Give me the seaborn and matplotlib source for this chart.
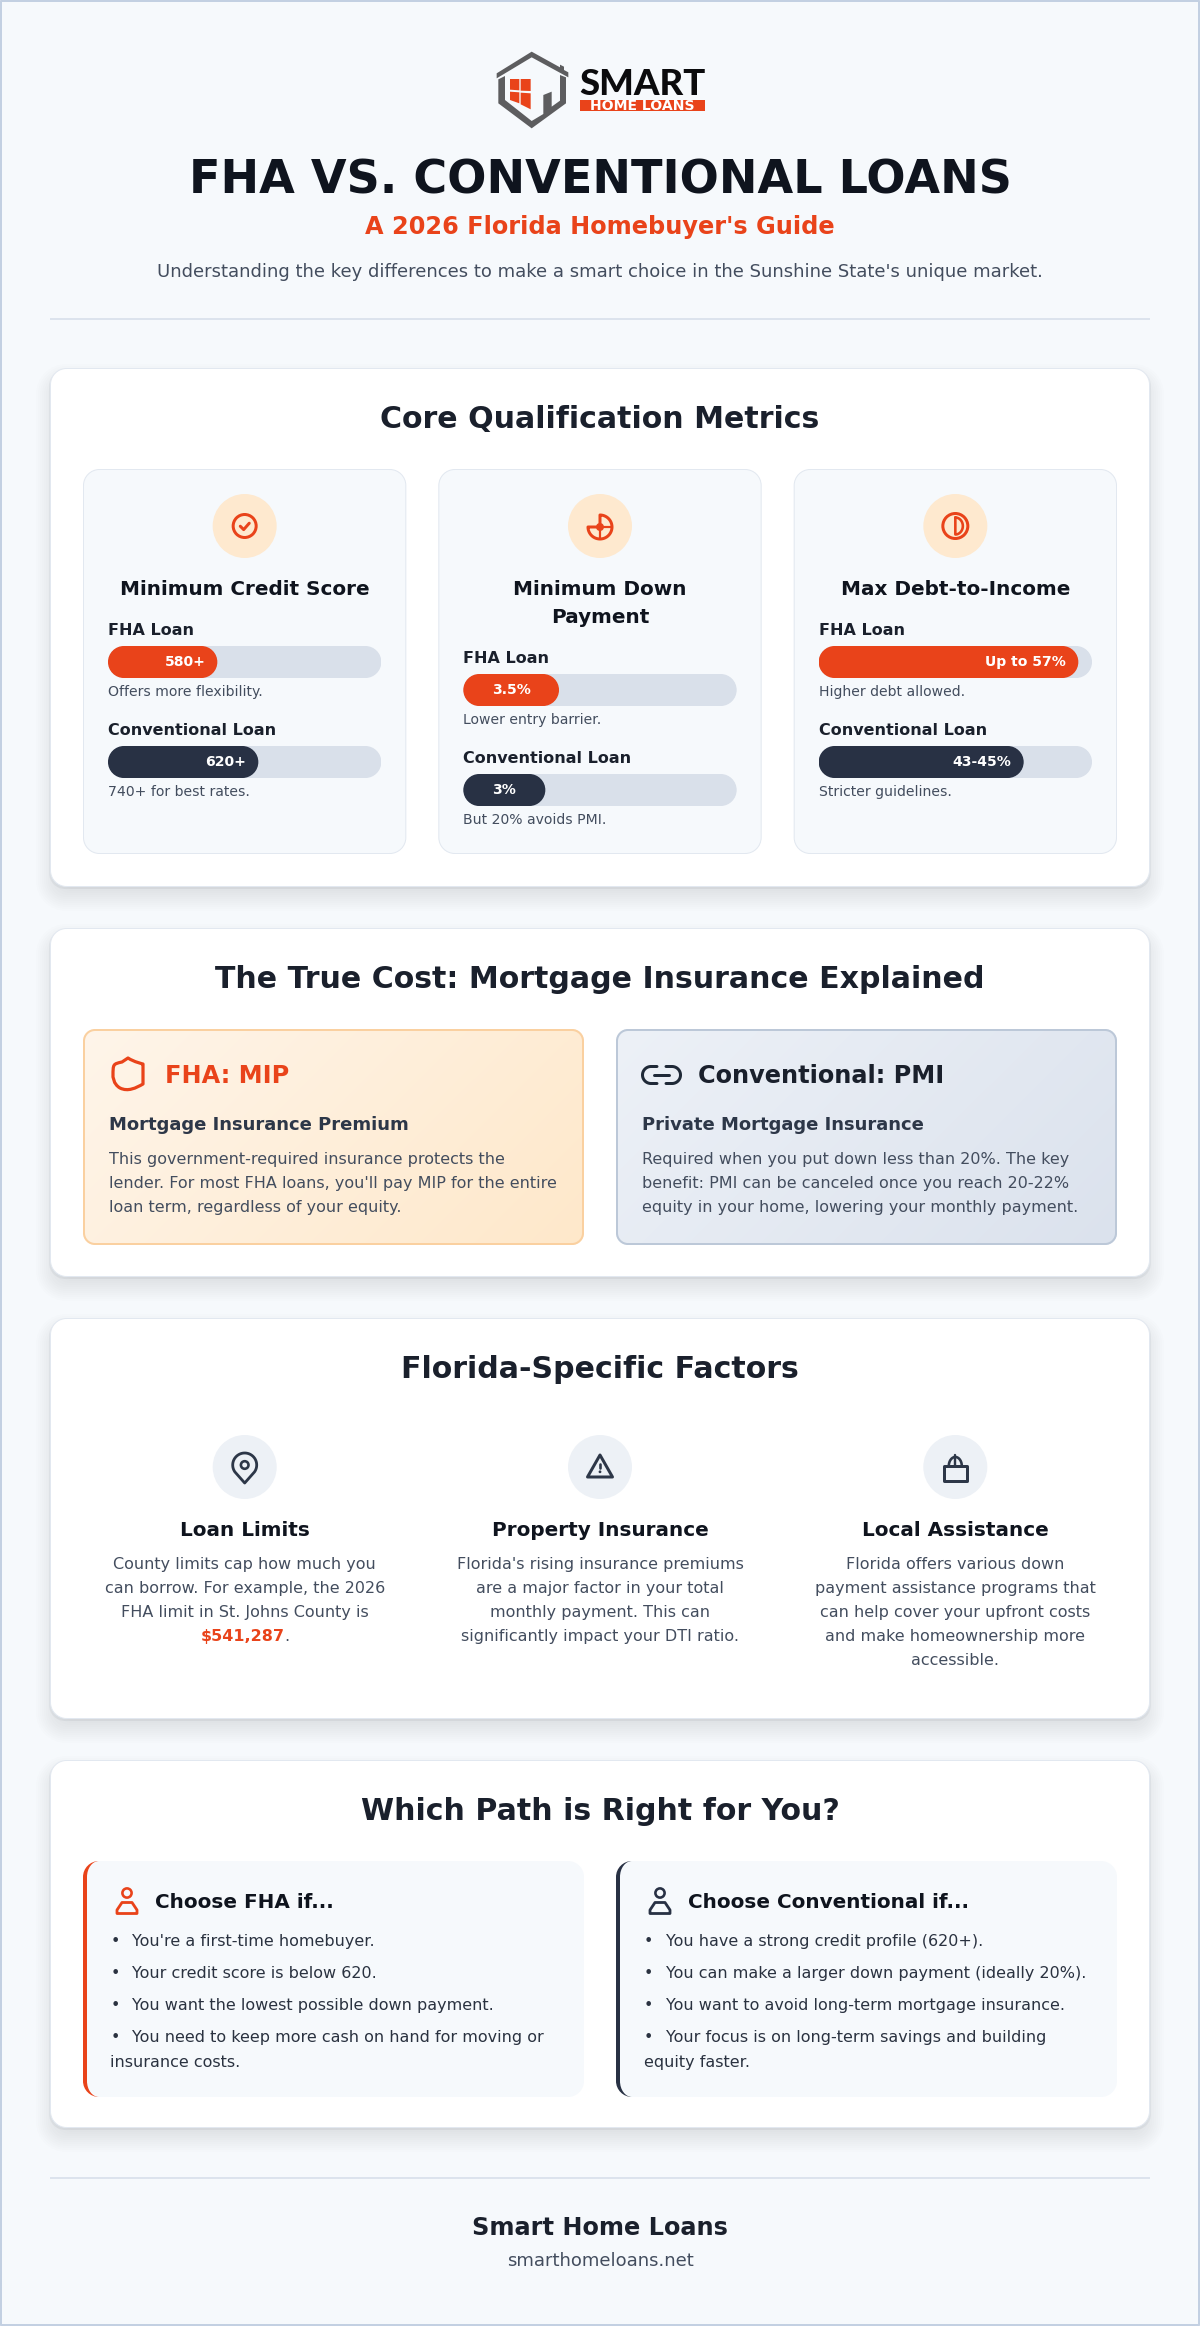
import numpy as np
import matplotlib
matplotlib.use("Agg")
import matplotlib.pyplot as plt
from matplotlib.path import Path
from matplotlib.patches import PathPatch, Circle
import seaborn as sns

# ---------- data ----------
metric_titles = [["Minimum Credit Score"], ["Minimum Down", "Payment"], ["Max Debt-to-Income"]]
bar_categories = ["FHA Loan", "Conventional Loan"]
fha_fill = [40, 35, 95]
conv_fill = [55, 30, 75]
fha_labels = ["580+", "3.5%", "Up to 57%"]
conv_labels = ["620+", "3%", "43-45%"]
fha_notes = ["Offers more flexibility.", "Lower entry barrier.", "Higher debt allowed."]
conv_notes = ["740+ for best rates.", "But 20% avoids PMI.", "Stricter guidelines."]
mip_body = ["This government-required insurance protects the",
            "lender. For most FHA loans, you'll pay MIP for the entire",
            "loan term, regardless of your equity."]
pmi_body = ["Required when you put down less than 20%. The key",
            "benefit: PMI can be canceled once you reach 20-22%",
            "equity in your home, lowering your monthly payment."]
factor_titles = ["Loan Limits", "Property Insurance", "Local Assistance"]
factor_lines = [["County limits cap how much you", "can borrow. For example, the 2026",
                 "FHA limit in St. Johns County is"],
                ["Florida's rising insurance premiums", "are a major factor in your total",
                 "monthly payment. This can", "significantly impact your DTI ratio."],
                ["Florida offers various down", "payment assistance programs that",
                 "can help cover your upfront costs", "and make homeownership more", "accessible."]]
fha_reasons = [["You're a first-time homebuyer."], ["Your credit score is below 620."],
               ["You want the lowest possible down payment."],
               ["You need to keep more cash on hand for moving or", "insurance costs."]]
conv_reasons = [["You have a strong credit profile (620+)."],
                ["You can make a larger down payment (ideally 20%)."],
                ["You want to avoid long-term mortgage insurance."],
                ["Your focus is on long-term savings and building", "equity faster."]]

# ---------- colours ----------
ORANGE = "#e9431a"
NAVY = "#283144"
INK = "#0f141e"
HEAD = "#1a202c"
BODY = "#434d5e"
TEXT2 = "#2a3240"
TRACK = "#d9e0ea"
PANEL = "#f6f9fc"
PAGE = "#f6f9fc"
LINE = "#e2e8f0"

sns.set_theme(style="white", rc={"font.family": ["DejaVu Sans"]})
W, H = 1200, 2326
fig = plt.figure(figsize=(W / 100, H / 100), dpi=100, facecolor=PAGE)
ax0 = fig.add_axes([0, 0, 1, 1], zorder=0)
ax0.set_xlim(0, W)
ax0.set_ylim(H, 0)
ax0.axis("off")


def px(v):
    return v * 0.72


def rr_path(x0, y0, x1, y1, r, rx=None):
    rx = r if rx is None else rx
    k = 0.5523
    v = [(x0 + rx, y0), (x1 - r, y0),
         (x1 - r + k * r, y0), (x1, y0 + r - k * r), (x1, y0 + r),
         (x1, y1 - r),
         (x1, y1 - r + k * r), (x1 - r + k * r, y1), (x1 - r, y1),
         (x0 + rx, y1),
         (x0 + rx - k * rx, y1), (x0, y1 - r + k * r), (x0, y1 - r),
         (x0, y0 + r),
         (x0, y0 + r - k * r), (x0 + rx - k * rx, y0), (x0 + rx, y0),
         (x0 + rx, y0)]
    c = [Path.MOVETO, Path.LINETO, Path.CURVE4, Path.CURVE4, Path.CURVE4, Path.LINETO,
         Path.CURVE4, Path.CURVE4, Path.CURVE4, Path.LINETO, Path.CURVE4, Path.CURVE4, Path.CURVE4,
         Path.LINETO, Path.CURVE4, Path.CURVE4, Path.CURVE4, Path.CLOSEPOLY]
    return Path(v, c)


def box(x0, y0, x1, y1, r, fc="none", ec="none", lw=0, alpha=None, z=1, rx=None):
    p = PathPatch(rr_path(x0, y0, x1, y1, r, rx), facecolor=fc, edgecolor=ec, linewidth=px(lw),
                  alpha=alpha, zorder=z)
    ax0.add_patch(p)
    return p


def T(x, yc, s, size, color=BODY, weight="normal", ha="left", family=None, z=5):
    kw = {"family": family} if family else {}
    return ax0.text(x, yc + 0.36 * size, s, fontsize=px(size), color=color, fontweight=weight,
                    ha=ha, va="baseline", zorder=z, **kw)


def line(pts, color, lw=2.5, closed=False, fc="none", z=4):
    pts = list(pts)
    codes = [Path.MOVETO] + [Path.LINETO] * (len(pts) - 1)
    if closed:
        pts.append(pts[0])
        codes.append(Path.CLOSEPOLY)
    p = PathPatch(Path(pts, codes), facecolor=fc, edgecolor=color, linewidth=px(lw),
                  capstyle="round", joinstyle="round", zorder=z)
    ax0.add_patch(p)


def arc(cx, cy, rx, ry, a0, a1, n=40):
    t = np.radians(np.linspace(a0, a1, n))
    return list(zip(cx + rx * np.cos(t), cy + ry * np.sin(t)))


def circ(cx, cy, r, fc="none", ec="none", lw=0, z=3):
    ax0.add_patch(Circle((cx, cy), r, facecolor=fc, edgecolor=ec, linewidth=px(lw), zorder=z))


def card(x0, y0, x1, y1):
    for k in range(14):
        e = 14 - k * 2
        box(x0 - e, y0 + 10 - e, x1 + e, y1 + 10 + e, 16 + max(e, 0), fc="#1a2a44", alpha=0.0085, z=1)
    box(x0 - 1, y0 + 2, x1 + 1, y1 + 2, 16, fc="#1a2a44", alpha=0.05, z=1)
    box(x0 + .5, y0 + .5, x1 - .5, y1 - .5, 16, fc="white", ec=LINE, lw=1, z=2)


def gradient(x0, y0, x1, y1, c0, c1, edge):
    a, b = np.array(matplotlib.colors.to_rgb(c0)), np.array(matplotlib.colors.to_rgb(c1))
    yy, xx = np.mgrid[0:1:120j, 0:1:200j]
    w = (xx * (x1 - x0) + yy * (y1 - y0)) / ((x1 - x0) + (y1 - y0))
    img = a[None, None, :] * (1 - w[..., None]) + b[None, None, :] * w[..., None]
    im = ax0.imshow(img, extent=(x0, x1, y1, y0), aspect="auto", zorder=2.5, interpolation="bilinear")
    clip = PathPatch(rr_path(x0, y0, x1, y1, 12), transform=ax0.transData)
    im.set_clip_path(clip)
    ax0.set_xlim(0, W)
    ax0.set_ylim(H, 0)
    box(x0 + 1, y0 + 1, x1 - 1, y1 - 1, 11, ec=edge, lw=2, z=3)


def logo_poly(pts, color, z=4):
    ax0.add_patch(plt.Polygon([(x / 3 + 480, y / 3 + 40) for x, y in pts], closed=True,
                              facecolor=color, edgecolor="none", zorder=z))


# ---------- page frame ----------
box(1, 1, W - 1, H - 1, 0.01, ec="#c3d0e2", lw=2, z=0.5)

# ---------- logo ----------
GREY = "#5d5d5f"
logo_poly([(50, 100), (155, 35), (240, 82), (240, 74), (252, 80), (252, 90), (265, 97), (265, 112),
           (155, 52), (50, 115)], GREY)
logo_poly([(55, 118), (75, 108), (75, 180), (155, 243), (190, 222), (190, 165), (215, 155), (215, 200),
           (240, 182), (240, 105), (258, 112), (258, 190), (155, 265), (55, 190)], GREY)
for pane in ([(90, 117), (118, 117), (118, 151), (90, 149)],
             [(122, 117), (152, 117), (152, 153), (122, 152)],
             [(90, 155), (118, 157), (118, 190), (90, 180)],
             [(122, 158), (152, 160), (152, 208), (122, 193)]):
    logo_poly(pane, ORANGE)
ax0.text(642, 95, "SMART", fontsize=px(36.5), color="#0b0b0d", fontweight="black", family="Lato",
         ha="center", va="baseline", zorder=5)
ax0.add_patch(plt.Rectangle((580, 99.5), 124.5, 11.5, facecolor=ORANGE, edgecolor="none", zorder=4))
ax0.text(642, 110, "HOME LOANS", fontsize=px(14), color="white", fontweight="bold",
         ha="center", va="baseline", zorder=5)

# ---------- header ----------
T(600, 177, "FHA VS. CONVENTIONAL LOANS", 46.2, INK, "bold", "center")
T(600, 225, "A 2026 Florida Homebuyer's Guide", 24, ORANGE, "bold", "center")
T(600, 271, "Understanding the key differences to make a smart choice in the Sunshine State's unique market.",
  17.95, BODY, ha="center")
ax0.add_patch(plt.Rectangle((50, 318), 1100, 2, facecolor="#dce3ed", edgecolor="none", zorder=1))

# ---------- cards ----------
card(50, 368, 1150, 887)
card(50, 928, 1150, 1277)
card(50, 1318, 1150, 1719)
card(50, 1760, 1150, 2128)
T(600, 417, "Core Qualification Metrics", 30, HEAD, "bold", "center")
T(600, 977, "The True Cost: Mortgage Insurance Explained", 30, HEAD, "bold", "center")
T(600, 1367, "Florida-Specific Factors", 30, HEAD, "bold", "center")
T(600, 1809, "Which Path is Right for You?", 30, HEAD, "bold", "center")

# ---------- metric panels ----------
panel_x = [83.0, 438.33, 793.67]
panel_w = 323.33
for i, x0 in enumerate(panel_x):
    box(x0 + .5, 469.5, x0 + panel_w - .5, 853.5, 16, fc=PANEL, ec=LINE, lw=1, z=3)
    cx = x0 + panel_w / 2
    circ(cx, 526, 32, fc="#fee9cf")
    for j, s in enumerate(metric_titles[i]):
        T(cx, 588 + 28 * j, s, 20, INK, "bold", "center")
    shift = 28 * (len(metric_titles[i]) - 1)
    tx = x0 + 25
    tw = panel_w - 50
    T(tx, 629 + shift, bar_categories[0], 16, HEAD, "bold")
    T(tx, 729 + shift, bar_categories[1], 16, HEAD, "bold")
    T(tx, 691 + shift, fha_notes[i], 14, BODY)
    T(tx, 791 + shift, conv_notes[i], 14, BODY)

    cy = 662 + shift
    ax = fig.add_axes([tx / W, 1 - (cy + 150) / H, tw / W, 200 / H], zorder=2)
    ax.patch.set_alpha(0)
    sns.barplot(x=[100, 100], y=bar_categories, color=TRACK, saturation=1, width=0.32, ax=ax, errorbar=None)
    vals = [fha_fill[i], conv_fill[i]]
    sns.barplot(x=vals, y=bar_categories, hue=bar_categories, palette=[ORANGE, NAVY], saturation=1,
                width=0.32, legend=False, ax=ax, errorbar=None)
    ax.set_xlim(0, 100)
    ax.set_ylim(1.5, -0.5)
    ax.axis("off")
    to_px = ax.transData + ax0.transData.inverted()
    for n, bar in enumerate(list(ax.patches)):
        (a, b), (c, d) = to_px.transform([(bar.get_x(), bar.get_y()),
                                          (bar.get_x() + bar.get_width(), bar.get_y() + bar.get_height())])
        xa, xb, ya, yb = min(a, c), max(a, c), min(b, d), max(b, d)
        z = 1 if n < 2 else 2
        bar.set_zorder(z)
        # the seaborn bar is clipped just inside an antialiased rounded cap of the same size
        bar.set_clip_path(PathPatch(rr_path(xa + .6, ya + .6, xb - .6, yb - .6, 15.4), transform=ax0.transData))
        ax.add_patch(PathPatch(rr_path(xa, ya, xb, yb, 16), transform=ax0.transData,
                               facecolor=bar.get_facecolor(), edgecolor="none", zorder=z))
    labels = [fha_labels[i], conv_labels[i]]
    for k, (v, lab) in enumerate(zip(vals, labels)):
        if i == 1:
            ax.annotate(lab, (v / 2, k), xytext=(0, 1.5), textcoords="offset pixels", ha="center",
                        va="center_baseline", color="white", fontsize=px(14), fontweight="bold", zorder=3)
        else:
            ax.annotate(lab, (v, k), xytext=(-12, 1.5), textcoords="offset pixels", ha="right",
                        va="center_baseline", color="white", fontsize=px(14), fontweight="bold", zorder=3)

# metric icons
cx = panel_x[0] + panel_w / 2
circ(cx, 526, 11.5, ec=ORANGE, lw=3, z=4)
line([(cx - 4.4, 526.2), (cx - 1, 529.6), (cx + 4.6, 523.2)], ORANGE, 3)
cx = panel_x[1] + panel_w / 2
line(arc(cx, 527, 12, 12, -90, 180) + [(cx, 527)], ORANGE, 3, closed=True)
line([(cx, 527), (cx + 12, 527)], ORANGE, 2.2)
line([(cx, 527), (cx, 539)], ORANGE, 2.2)
circ(cx, 527, 4, fc=ORANGE, z=5)
cx = panel_x[2] + panel_w / 2
circ(cx, 526, 12.5, ec=ORANGE, lw=3, z=4)
line([(cx, 517.5)] + arc(cx, 526, 7.5, 8.5, -90, 90) + [(cx, 517.5)], ORANGE, 2.6)

# ---------- insurance boxes ----------
gradient(83, 1029, 584, 1245, "#fff5ea", "#fee8ca", "#fad0a0")
gradient(616, 1029, 1117, 1245, "#edf1f7", "#dbe2ed", "#bcc8d8")
T(165, 1074, "FHA: MIP", 24, ORANGE, "bold")
T(698, 1074, "Conventional: PMI", 24, HEAD, "bold")
T(109, 1124, "Mortgage Insurance Premium", 18, "#2d3748", "bold")
T(642.5, 1124, "Private Mortgage Insurance", 18, "#2d3748", "bold")
for j, s in enumerate(mip_body):
    T(109, 1158 + 24.3 * j, s, 16, BODY)
for j, s in enumerate(pmi_body):
    T(642.5, 1158 + 24.3 * j, s, 16, BODY)

# shield and link icons
shield = Path([(128, 1058), (134, 1062), (143, 1064), (143, 1064), (143, 1076), (143, 1076),
               (143, 1084), (136, 1088), (128, 1092), (120, 1088), (113, 1084), (113, 1076),
               (113, 1076), (113, 1064), (113, 1064), (122, 1062), (128, 1058), (128, 1058)],
              [Path.MOVETO] + [Path.CURVE4] * 15 + [Path.LINETO, Path.CLOSEPOLY])
ax0.add_patch(PathPatch(shield, facecolor="none", edgecolor=ORANGE, linewidth=px(3.2), joinstyle="round", zorder=4))
line([(657, 1066.5), (651, 1066.5)] + arc(651, 1075, 8.5, 8.5, 270, 90) + [(657, 1083.5)], "#1f2937", 3)
line([(666, 1066.5), (672, 1066.5)] + arc(672, 1075, 8.5, 8.5, -90, 90) + [(666, 1083.5)], "#1f2937", 3)
line([(654, 1075), (669, 1075)], "#1f2937", 3)

# ---------- florida factors ----------
factor_x = [244.7, 600, 955.3]
for cx, title, lines in zip(factor_x, factor_titles, factor_lines):
    circ(cx, 1467, 32, fc="#edf1f6")
    T(cx, 1529, title, 20, INK, "bold", "center")
    for j, s in enumerate(lines):
        T(cx, 1563 + 24 * j, s, 16, BODY, ha="center")
T(200.3, 1635, "$541,287", 16, ORANGE, "bold")
T(284.5, 1635, ".", 16, BODY)

DARK = "#2d3748"
cx = factor_x[0]
line(arc(cx, 1465, 12, 12, 145, 395) + [(cx, 1483)], DARK, 2.8, closed=True)
circ(cx, 1465, 3.8, ec=DARK, lw=2.6, z=4)
cx = factor_x[1]
line([(cx, 1455), (cx - 12.5, 1477), (cx + 12.5, 1477)], DARK, 3, closed=True)
line([(cx, 1463.5), (cx, 1467.5)], DARK, 2.6)
circ(cx, 1471.8, 1.4, fc=DARK, z=4)
cx = factor_x[2]
line([(cx - 11.5, 1466), (cx + 11.5, 1466), (cx + 11.5, 1480.5), (cx - 11.5, 1480.5)], DARK, 3, closed=True)
line(arc(cx, 1466, 6.5, 9, 180, 360), DARK, 2.6)
line([(cx, 1455), (cx, 1466)], DARK, 2.4)

# ---------- which path ----------
for x0, col, title, reasons, tx in [(83, ORANGE, "Choose FHA if...", fha_reasons, 155.4),
                                    (616, NAVY, "Choose Conventional if...", conv_reasons, 688)]:
    box(x0, 1861, x0 + 40, 2097, 16, fc=col, z=3)
    box(x0 + 4, 1861, x0 + 501, 2097, 16, fc=PANEL, z=3.5, rx=12)
    T(tx, 1901, title, 20, INK, "bold")
    y = 1940
    for item in reasons:
        T(x0 + 27.5, y, "\u2022", 16, TEXT2)
        T(x0 + 49.5, y, item[0], 16, TEXT2)
        y += 32.2
        if len(item) > 1:
            T(x0 + 27.5, y - 8, item[1], 16, TEXT2)
            y += 24
    px_ = x0 + 44
    circ(px_, 1893, 4.6, ec=col, lw=2.6, z=4)
    line([(px_ - 10, 1913.5), (px_ - 10, 1910), (px_ - 5, 1902.5), (px_ + 5, 1902.5), (px_ + 10, 1910),
          (px_ + 10, 1913.5)], col, 2.8, closed=True)

# ---------- footer ----------
ax0.add_patch(plt.Rectangle((50, 2177), 1100, 2, facecolor="#dce3ed", edgecolor="none", zorder=1))
T(600, 2226, "Smart Home Loans", 24, HEAD, "bold", "center")
T(600, 2260, "smarthomeloans.net", 18, BODY, ha="center")

fig.savefig("out.png", dpi=100, facecolor=PAGE)
